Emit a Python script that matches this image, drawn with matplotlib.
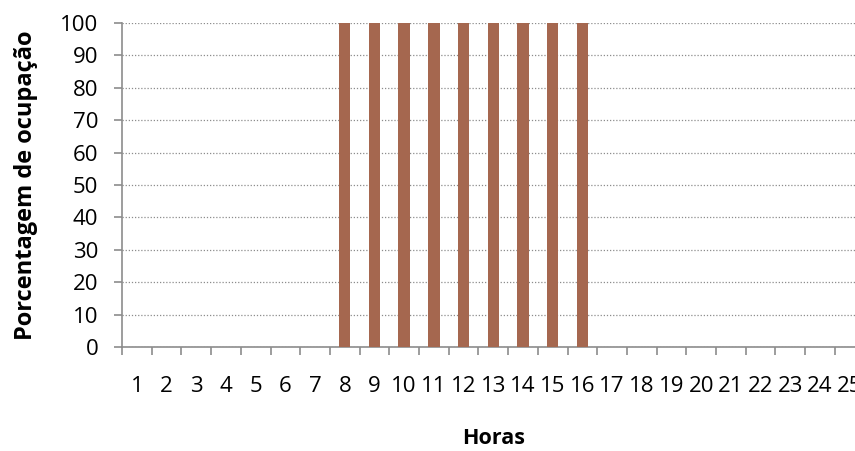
import numpy as np
import matplotlib.pyplot as plt
from matplotlib.ticker import FixedLocator

# dados: ocupação por hora
horas = [str(h) for h in range(1, 26)]
ocupacao = [0, 0, 0, 0, 0, 0, 0, 100, 100, 100, 100, 100, 100, 100, 100, 100,
            0, 0, 0, 0, 0, 0, 0, 0, 0]
yticks = list(range(0, 101, 10))

plt.rcParams['font.family'] = ['Open Sans', 'DejaVu Sans']

fig = plt.figure(figsize=(8.55, 4.51), dpi=100)
# eixo passa da borda direita, como no original
ax = fig.add_axes([122 / 855, 104 / 451, 742.5 / 855, 324 / 451])

x = np.arange(1, len(horas) + 1)
ax.bar(x, ocupacao, width=0.385, color='#A5674F', zorder=3)

ax.set_xlim(0.5, len(horas) + 0.5)
ax.set_ylim(0, 100)
ax.set_yticks(yticks)
ax.set_xticks(x)
ax.set_xticklabels(horas)
ax.xaxis.set_minor_locator(FixedLocator(np.arange(0.5, len(horas) + 1, 1)))

ax.grid(axis='y', color='#8c8c8c', linestyle=(0, (1, 1.5)), linewidth=0.9, zorder=0)

for s in ['top', 'right']:
    ax.spines[s].set_visible(False)
for s in ['left', 'bottom']:
    ax.spines[s].set_color('#8c8c8c')
    ax.spines[s].set_linewidth(1.2)

ax.tick_params(axis='y', length=6, width=1.2, color='#8c8c8c', pad=11, labelsize=16)
ax.tick_params(axis='x', which='major', length=0, pad=21, labelsize=16)
ax.tick_params(axis='x', which='minor', length=6, width=1.2, color='#8c8c8c')

ax.set_xlabel('Horas', fontsize=15.5, fontweight='bold', labelpad=22)
ax.set_ylabel('Porcentagem de ocupação', fontsize=17, fontweight='bold', labelpad=16)

fig.savefig('out.png', dpi=100)
